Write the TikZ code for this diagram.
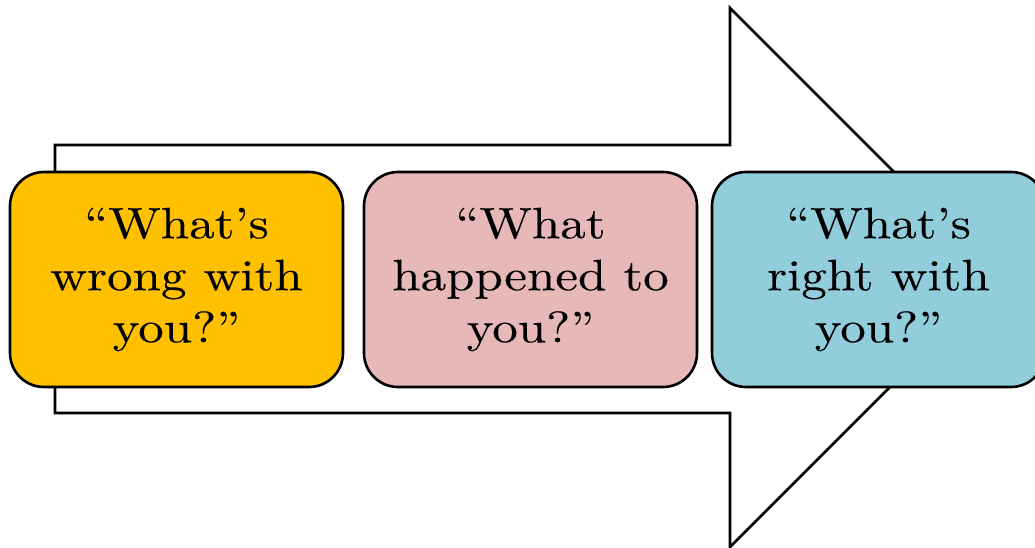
\documentclass[tikz,border=0pt]{standalone}
\usepackage{fontspec}
\newfontfamily\qfont{lmroman10-regular}[Extension=.otf,FakeStretch=1.16,FakeBold=0.2]
\definecolor{boxorange}{HTML}{FFC000}
\definecolor{boxpink}{HTML}{E6B8B7}
\definecolor{boxblue}{HTML}{92CDDC}
\begin{document}
\begin{tikzpicture}[x=1pt,y=-1pt,
  qbox/.style={draw=black,line width=2.6pt,rounded corners=34pt,
    minimum width=333pt,minimum height=215pt,inner sep=0pt,
    align=center,font=\qfont\fontsize{44}{52}\selectfont},
  bigarrow/.style={draw=black,line width=2.6pt,fill=white,line join=miter}]
\useasboundingbox (0,0) rectangle (1035,548);
\clip (0,0) rectangle (1035,548);
\coordinate (a1) at (55,145);
\coordinate (a2) at (730,145);
\coordinate (a3) at (730,8);
\coordinate (tip) at (999.5,277.5);
\coordinate (a5) at (730,547);
\coordinate (a6) at (730,413);
\coordinate (a7) at (55,413);
\draw[bigarrow] (a1) -- (a2) -- (a3) -- (tip) -- (a5) -- (a6) -- (a7) -- cycle;
\node[qbox,fill=boxorange] (b1) at (176.5,279.5) {“What’s\\wrong with\\you?”};
\node[qbox,fill=boxpink] (b2) at (530.5,279.5) {“What\\happened to\\you?”};
\node[qbox,fill=boxblue] (b3) at (878.5,279.5) {“What’s\\right with\\you?”};
\end{tikzpicture}
\end{document}
